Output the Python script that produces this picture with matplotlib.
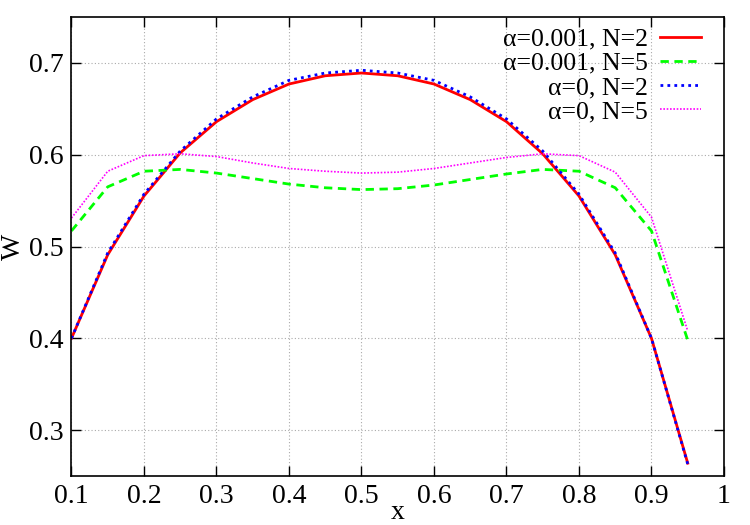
import numpy as np
import matplotlib.pyplot as plt

plt.rcParams['font.family'] = ['Liberation Serif', 'DejaVu Serif']

# x positions of the samples
x = [0.1, 0.15, 0.2, 0.25, 0.3, 0.35, 0.4, 0.45, 0.5,
     0.55, 0.6, 0.65, 0.7, 0.75, 0.8, 0.85, 0.9, 0.95]

# alpha=0.001, N=2
w_a001_n2 = [0.400, 0.491, 0.555, 0.602, 0.636, 0.660, 0.677, 0.686, 0.689,
             0.686, 0.677, 0.660, 0.636, 0.601, 0.555, 0.491, 0.400, 0.264]
# alpha=0.001, N=5
w_a001_n5 = [0.517, 0.565, 0.582, 0.584, 0.580, 0.574, 0.568, 0.564, 0.562,
             0.563, 0.567, 0.573, 0.579, 0.584, 0.582, 0.564, 0.517, 0.398]
# alpha=0, N=2
w_a0_n2 = [0.400, 0.493, 0.557, 0.604, 0.639, 0.663, 0.681, 0.689, 0.692,
           0.689, 0.681, 0.663, 0.639, 0.604, 0.557, 0.493, 0.400, 0.263]
# alpha=0, N=5
w_a0_n5 = [0.531, 0.582, 0.599, 0.601, 0.598, 0.591, 0.585, 0.582, 0.580,
           0.581, 0.585, 0.591, 0.597, 0.601, 0.599, 0.581, 0.532, 0.408]

fig = plt.figure(figsize=(7.5, 5.25), dpi=100)
ax = fig.add_axes([0.0953, 0.0933, 0.87, 0.8743])

ax.plot(x, w_a001_n2, color='#ff0000', lw=2, ls='-', label='α=0.001, N=2')
ax.plot(x, w_a001_n5, color='#00ff00', lw=2, ls=(0, (3, 2)), label='α=0.001, N=5')
ax.plot(x, w_a0_n2, color='#0000ff', lw=2, ls=(0, (1, 1.5)), label='α=0, N=2')
ax.plot(x, w_a0_n5, color='#ff00ff', lw=1.2, ls=(0, (1, 1)), label='α=0, N=5')

ax.set_xlim(0.1, 1.0)
ax.set_ylim(0.25, 0.75)
ax.set_xticks(np.arange(0.1, 1.01, 0.1))
ax.set_xticklabels(['0.1', '0.2', '0.3', '0.4', '0.5', '0.6', '0.7', '0.8', '0.9', '1'])
ax.set_yticks([0.3, 0.4, 0.5, 0.6, 0.7])
ax.set_yticklabels(['0.3', '0.4', '0.5', '0.6', '0.7'])
ax.tick_params(direction='in', top=True, right=True, length=7, width=1,
               labelsize=20, pad=6)
ax.grid(True, color='#aaaaaa', ls=(0, (1, 2)), lw=0.8)
for s in ax.spines.values():
    s.set_linewidth(1.2)

ax.set_xlabel('x', fontsize=20, labelpad=-7)
ax.set_ylabel('W', fontsize=20, labelpad=2)

ax.legend(loc='upper right', bbox_to_anchor=(0.985, 1.005), frameon=False,
          markerfirst=False, fontsize=18.5, handlelength=1.6, handletextpad=0.47,
          labelspacing=0.05, borderaxespad=0.1)

fig.savefig('out.png', dpi=100)
